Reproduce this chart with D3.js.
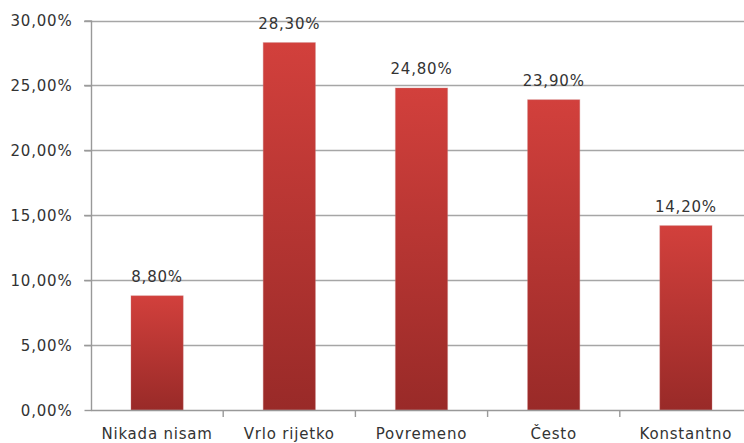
<!DOCTYPE html>
<html><head><meta charset="utf-8">
<script src="https://cdn.jsdelivr.net/npm/d3@7"></script>
<style>html,body{margin:0;padding:0;background:#fff;overflow:hidden}</style>
</head><body>
<svg id="c" width="744" height="443"></svg>
<script>
const categories = ["Nikada nisam", "Vrlo rijetko", "Povremeno", "Često", "Konstantno"];
const values = [0.088, 0.283, 0.248, 0.239, 0.142];
const valueLabels = ["8,80%", "28,30%", "24,80%", "23,90%", "14,20%"];
const yTicks = [0, 0.05, 0.10, 0.15, 0.20, 0.25, 0.30];

const svg = d3.select("#c");
const font = "'DejaVu Sans', Verdana, sans-serif";
const x = d3.scaleBand().domain(categories).range([91, 752]).padding(0);
const y = d3.scaleLinear().domain([0, 0.30]).range([410, 20.5]);
const fmt = v => (v * 100).toFixed(2).replace(".", ",") + "%";

const defs = svg.append("defs");
const g = defs.append("linearGradient").attr("id", "bg").attr("x1", 0).attr("y1", 0).attr("x2", 0).attr("y2", 1);
g.append("stop").attr("offset", "0%").attr("stop-color", "#D2403C");
g.append("stop").attr("offset", "100%").attr("stop-color", "#992A28");

// gridlines
svg.append("g").selectAll("line").data(yTicks.slice(1)).join("line")
  .attr("x1", 84).attr("x2", 752)
  .attr("y1", d => Math.round(y(d)) + 0.5).attr("y2", d => Math.round(y(d)) + 0.5)
  .attr("stroke", "#A6A6A6").attr("stroke-width", 1.4);

// y axis
const ya = svg.append("g").attr("transform", "translate(91.5,0)")
  .call(d3.axisLeft(y).tickValues(yTicks).tickFormat(fmt).tickSize(7).tickPadding(12));
ya.select(".domain").attr("stroke", "#999").attr("stroke-width", 1.4).attr("d", `M0,${y(0.30)}V${y(0)}`);
ya.selectAll(".tick line").attr("stroke", "#999").attr("stroke-width", 1.4);
ya.selectAll(".tick text").attr("font-family", font).attr("font-size", 15).attr("fill", "#333")
  .attr("letter-spacing", "0.8px").attr("dy", "0.36em");

// bars
const bw = x.bandwidth() * 0.395;
svg.append("g").selectAll("rect").data(values).join("rect")
  .attr("x", (d, i) => x(categories[i]) + (x.bandwidth() - bw) / 2)
  .attr("y", d => y(d))
  .attr("width", bw)
  .attr("height", d => y(0) - y(d))
  .attr("fill", "url(#bg)")
  .attr("stroke", "rgba(200,120,120,0.35)").attr("stroke-width", 1);

// x axis
svg.append("line").attr("x1", 91).attr("x2", 752).attr("y1", 410.5).attr("y2", 410.5)
  .attr("stroke", "#999").attr("stroke-width", 1.4);
svg.append("g").selectAll("line").data(categories.slice(1)).join("line")
  .attr("x1", d => x(d)).attr("x2", d => x(d)).attr("y1", 410).attr("y2", 417)
  .attr("stroke", "#999").attr("stroke-width", 1.4);
svg.append("g").selectAll("text").data(categories).join("text")
  .attr("x", d => x(d) + x.bandwidth() / 2).attr("y", 439)
  .attr("text-anchor", "middle").attr("font-family", font).attr("font-size", 15).attr("fill", "#333")
  .attr("letter-spacing", "0.8px")
  .text(d => d);

// value labels
svg.append("g").selectAll("text").data(values).join("text")
  .attr("x", (d, i) => x(categories[i]) + x.bandwidth() / 2)
  .attr("y", d => y(d) - 14)
  .attr("text-anchor", "middle").attr("font-family", font).attr("font-size", 15).attr("fill", "#333")
  .attr("letter-spacing", "0.8px")
  .text((d, i) => valueLabels[i]);
</script>
</body></html>
